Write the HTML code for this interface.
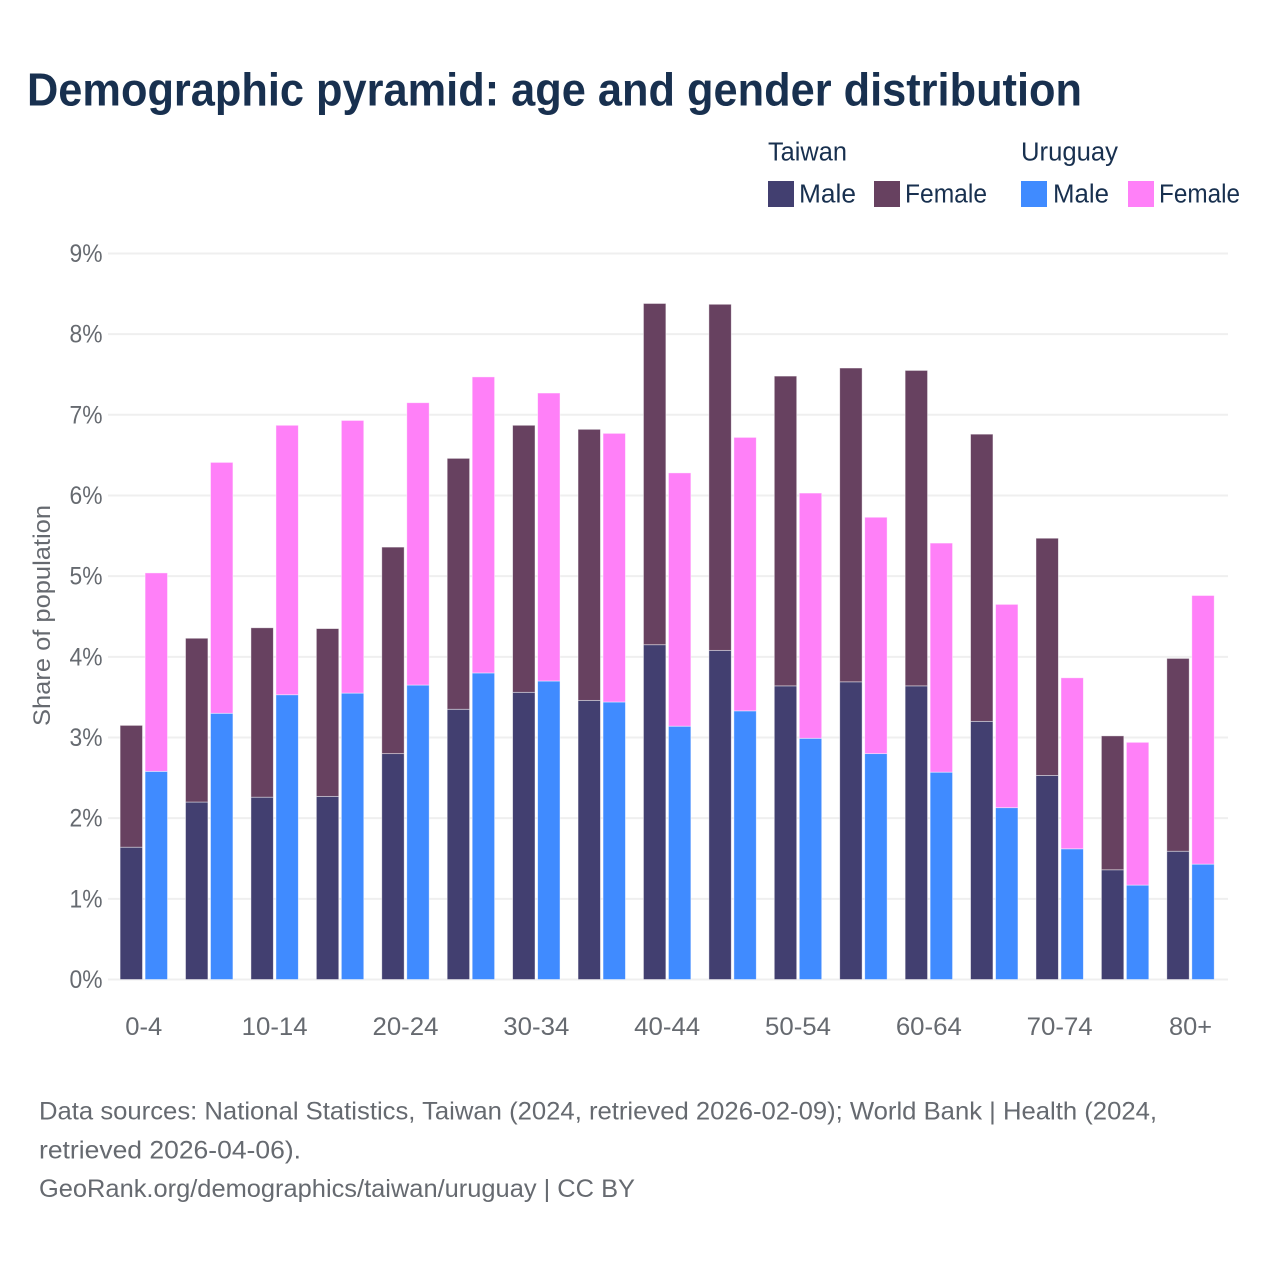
<!DOCTYPE html>
<html lang="en">
<head>
<meta charset="utf-8">
<title>Demographic pyramid</title>
<style>
html,body{margin:0;padding:0;background:#fff;width:1280px;height:1280px;overflow:hidden}
svg{display:block}
text{font-family:"Liberation Sans",sans-serif}
</style>
</head>
<body>
<svg id="chart" xmlns="http://www.w3.org/2000/svg" width="1280" height="1280" viewBox="0 0 1280 1280">
  <rect x="0" y="0" width="1280" height="1280" fill="#ffffff"/>
  <text x="27" y="105.5" font-size="46" font-weight="700" fill="#18304f" textLength="1055" lengthAdjust="spacingAndGlyphs">Demographic pyramid: age and gender distribution</text>

  <g font-size="25.5" fill="#18304f">
    <text x="768" y="160.5" textLength="79" lengthAdjust="spacingAndGlyphs">Taiwan</text>
    <text x="1021" y="160.5" textLength="97" lengthAdjust="spacingAndGlyphs">Uruguay</text>
    <rect x="768" y="181" width="26" height="26" fill="#423f70"/>
    <text x="799" y="202.5" textLength="57" lengthAdjust="spacingAndGlyphs">Male</text>
    <rect x="874" y="181" width="26" height="26" fill="#674160"/>
    <text x="905" y="202.5" textLength="82" lengthAdjust="spacingAndGlyphs">Female</text>
    <rect x="1021" y="181" width="26" height="26" fill="#408bff"/>
    <text x="1053" y="202.5" textLength="56" lengthAdjust="spacingAndGlyphs">Male</text>
    <rect x="1128" y="181" width="26" height="26" fill="#ff80f8"/>
    <text x="1159" y="202.5" textLength="81" lengthAdjust="spacingAndGlyphs">Female</text>
  </g>

  <g id="grid"></g>
  <g id="bars"></g>
  <g id="yticks"></g>
  <g id="xticks"></g>

  <text transform="translate(50,615.5) rotate(-90)" text-anchor="middle" font-size="24.5" fill="#666a70" textLength="221" lengthAdjust="spacingAndGlyphs">Share of population</text>

  <g font-size="25" fill="#666a70">
    <text x="39" y="1119.5" textLength="1118" lengthAdjust="spacingAndGlyphs">Data sources: National Statistics, Taiwan (2024, retrieved 2026-02-09); World Bank | Health (2024,</text>
    <text x="39" y="1158.5" textLength="262" lengthAdjust="spacingAndGlyphs">retrieved 2026-04-06).</text>
    <text x="39" y="1197" textLength="596" lengthAdjust="spacingAndGlyphs">GeoRank.org/demographics/taiwan/uruguay | CC BY</text>
  </g>
</svg>
<script>
var ageGroups = ["0-4","5-9","10-14","15-19","20-24","25-29","30-34","35-39","40-44","45-49","50-54","55-59","60-64","65-69","70-74","75-79","80+"];
var taiwanMale = [1.64,2.20,2.26,2.27,2.80,3.35,3.56,3.46,4.15,4.08,3.64,3.69,3.64,3.20,2.53,1.36,1.59];
var taiwanFemale = [1.51,2.03,2.10,2.08,2.56,3.11,3.31,3.36,4.23,4.29,3.84,3.89,3.91,3.56,2.94,1.66,2.39];
var uruguayMale = [2.58,3.30,3.53,3.55,3.65,3.80,3.70,3.44,3.14,3.33,2.99,2.80,2.57,2.13,1.62,1.17,1.43];
var uruguayFemale = [2.46,3.11,3.34,3.38,3.50,3.67,3.57,3.33,3.14,3.39,3.04,2.93,2.84,2.52,2.12,1.77,3.33];
var yTickValues = [0,1,2,3,4,5,6,7,8,9];
var xTickLabels = ["0-4","10-14","20-24","30-34","40-44","50-54","60-64","70-74","80+"];

var NS = "http://www.w3.org/2000/svg";
function yScale(v){ return 979.5 - v * 80.67; }
function xBand(i){ return 143.8 + i * 65.42; }
function make(tag, parent, attrs){
  var el = document.createElementNS(NS, tag);
  for (var k in attrs) el.setAttribute(k, attrs[k]);
  parent.appendChild(el);
  return el;
}

var gridG = document.getElementById("grid");
var yG = document.getElementById("yticks");
var xG = document.getElementById("xticks");
var barsG = document.getElementById("bars");

yTickValues.forEach(function(v){
  var line = make("line", gridG, {x1:108, x2:1228, y1:yScale(v), y2:yScale(v), stroke:"#efefef", "stroke-width":2});
  
  
  var t = make("text", yG, {x:102.5, y:yScale(v)+8.5, "text-anchor":"end", "font-size":25, fill:"#666a70", textLength:33, lengthAdjust:"spacingAndGlyphs"});
  
  
  t.textContent = v + "%";
});

xTickLabels.forEach(function(lab){
  var i = ageGroups.indexOf(lab);
  var t = make("text", xG, {x:xBand(i), y:1035, "text-anchor":"middle", "font-size":25, fill:"#666a70"});
  
  
  t.textContent = lab;
  t.setAttribute("textLength", lab.length === 5 ? 66 : (lab === "0-4" ? 37 : 43));
  t.setAttribute("lengthAdjust", "spacingAndGlyphs");
});

function drawBar(x, w, v0, v1, fill, edge){
  var top = yScale(v1), bottom = yScale(v0);
  var r = make("rect", barsG, {x:x, y:top, width:w, height:bottom-top, fill:fill, stroke:edge, "stroke-opacity":0.55, "stroke-width":0.8});
  return r;
}

ageGroups.forEach(function(g, i){
  var c = xBand(i);
  var xl = c - 23.7, xr = c + 1.3, w = 22.4;
  var a = drawBar(xl, w, 0, taiwanMale[i], "#423f70", "#ffffff");
  
  
  var b = drawBar(xl, w, taiwanMale[i], taiwanMale[i] + taiwanFemale[i], "#674160", "#ffffff");
  
  
  var d = drawBar(xr, w, 0, uruguayMale[i], "#408bff", "#ffffff");
  
  
  var e = drawBar(xr, w, uruguayMale[i], uruguayMale[i] + uruguayFemale[i], "#ff80f8", "#ffffff");
  
  
});
</script>
</body>
</html>
